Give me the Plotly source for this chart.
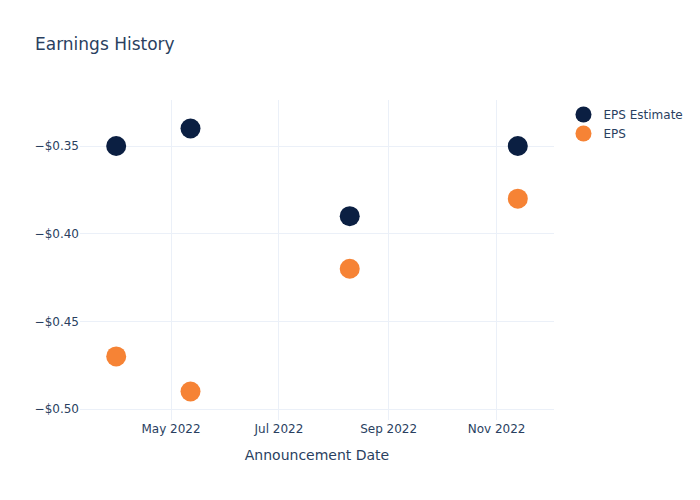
import plotly.graph_objects as go

dates = ["2022-03-31", "2022-05-12", "2022-08-10", "2022-11-13"]
eps_estimate = [-0.35, -0.34, -0.39, -0.35]
eps_actual = [-0.47, -0.49, -0.42, -0.38]

fig = go.Figure()
fig.add_trace(go.Scatter(x=dates, y=eps_estimate, mode="markers", name="EPS Estimate",
                         marker=dict(size=20, color="#0b1f42")))
fig.add_trace(go.Scatter(x=dates, y=eps_actual, mode="markers", name="EPS",
                         marker=dict(size=20, color="#f68335")))
fig.update_layout(
    template="plotly_white",
    width=700, height=500,
    title=dict(text="Earnings History"),
    font=dict(family="DejaVu Sans, sans-serif"),
    xaxis=dict(title=dict(text="Announcement Date")),
    yaxis=dict(tickformat="$.2f"),
)
fig.write_html("out.html")
